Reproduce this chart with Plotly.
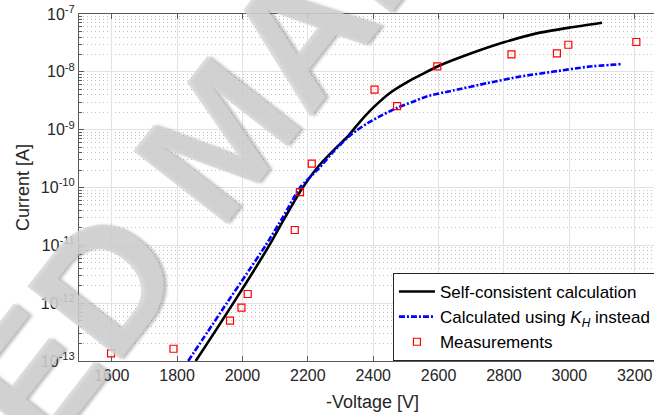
import plotly.graph_objects as go

# Self-consistent calculation
sc_voltage = [1857, 1915, 1972, 2028, 2082, 2132, 2180, 2230, 2280, 2320, 2360,
              2400, 2450, 2500, 2550, 2600, 2700, 2800, 2900, 3000, 3100]
sc_current = [1.0e-13, 3.16e-13, 1.0e-12, 3.16e-12, 1.0e-11, 3.16e-11, 9.1e-11,
              2.24e-10, 4.47e-10, 7.41e-10, 1.38e-9, 2.40e-9, 4.27e-9, 6.46e-9,
              9.12e-9, 1.26e-8, 2.09e-8, 3.24e-8, 4.62e-8, 5.82e-8, 7.08e-8]

# Calculation using K_H
kh_voltage = [1834, 1893, 1952, 2012, 2071, 2125, 2176, 2234, 2280, 2321, 2350,
              2382, 2430, 2474, 2520, 2566, 2647, 2749, 2851, 2953, 3055, 3157]
kh_current = [1.0e-13, 3.16e-13, 1.0e-12, 3.16e-12, 1.0e-11, 3.16e-11, 1.0e-10,
              2.14e-10, 4.27e-10, 7.24e-10, 9.77e-10, 1.29e-9, 1.82e-9, 2.40e-9,
              3.02e-9, 3.80e-9, 4.79e-9, 6.38e-9, 8.32e-9, 1.01e-8, 1.22e-8, 1.36e-8]

# Measured points
meas_voltage = [1598, 1789, 1962, 1997, 2016, 2160, 2176, 2212, 2404, 2473,
                2596, 2823, 2962, 2997, 3205]
meas_current = [1.36e-13, 1.63e-13, 4.98e-13, 8.35e-13, 1.44e-12, 1.84e-11,
                8.35e-11, 2.58e-10, 4.91e-9, 2.56e-9, 1.24e-8, 2.01e-8, 2.09e-8,
                2.94e-8, 3.28e-8]

x_ticks = [1600, 1800, 2000, 2200, 2400, 2600, 2800, 3000, 3200]
y_ticks = [1e-13, 1e-12, 1e-11, 1e-10, 1e-9, 1e-8, 1e-7]
y_ticktext = ["10<sup>-13</sup>", "10<sup>-12</sup>", "10<sup>-11</sup>",
              "10<sup>-10</sup>", "10<sup>-9</sup>", "10<sup>-8</sup>",
              "10<sup>-7</sup>"]

FONT = "Liberation Sans, Arial, sans-serif"
INK = "#262626"
AXIS = "#5a5a5a"

fig = go.Figure()

fig.add_trace(go.Scatter(
    x=sc_voltage, y=sc_current, mode="lines", name="Self-consistent calculation",
    line=dict(color="black", width=2.6, shape="spline", smoothing=0.6),
))
fig.add_trace(go.Scatter(
    x=kh_voltage, y=kh_current, mode="lines",
    name="Calculated using <i>K</i><sub><i>H</i></sub> instead",
    line=dict(color="#0000ff", width=2.6, dash="6px,2px,2px,2px",
              shape="spline", smoothing=0.6),
))
fig.add_trace(go.Scatter(
    x=meas_voltage, y=meas_current, mode="markers", name="Measurements",
    marker=dict(symbol="square-open", size=7, color="#ff0000",
                line=dict(width=1.2, color="#ff0000")),
))

# Diagonal watermark
fig.add_annotation(
    text="ACCEPTED MANUSCRIPT", xref="paper", yref="paper",
    x=0.245, y=0.65, xanchor="center", yanchor="middle",
    showarrow=False, textangle=-52,
    font=dict(family=FONT, size=172, color="rgba(214,214,214,0.82)",
              weight="bold",
              shadow="2px 3px 3px rgba(110,110,110,0.55)"),
)

# x-axis title centred on the full voltage span
fig.add_annotation(
    text="-Voltage [V]", xref="paper", yref="paper",
    x=0.511, y=-0.118, xanchor="center", yanchor="middle",
    showarrow=False, font=dict(family=FONT, size=18, color=INK),
)

fig.update_layout(
    width=654, height=415,
    margin=dict(l=79, r=0, t=14, b=54, autoexpand=False),
    paper_bgcolor="white", plot_bgcolor="white",
    font=dict(family=FONT, size=16, color=INK),
    showlegend=True,
    legend=dict(
        x=0.546, y=0.0, xanchor="left", yanchor="bottom",
        bgcolor="white", bordercolor=INK, borderwidth=1,
        font=dict(family=FONT, size=17, color="black"),
        itemwidth=36, tracegroupgap=0,
    ),
    xaxis=dict(
        range=[1500, 3259], tickvals=x_ticks,
        showline=True, linecolor=AXIS, linewidth=1, mirror="ticks",
        ticks="inside", ticklen=5, tickcolor=AXIS,
        showgrid=True, gridcolor="#e2e2e2", gridwidth=1,
        zeroline=False, tickfont=dict(size=16, color=INK),
    ),
    yaxis=dict(
        type="log", range=[-13, -7],
        tickvals=y_ticks, ticktext=y_ticktext,
        showline=True, linecolor=AXIS, linewidth=1, mirror=False,
        ticks="inside", ticklen=5, tickcolor=AXIS,
        showgrid=True, gridcolor="#e2e2e2", gridwidth=1,
        zeroline=False, tickfont=dict(size=16, color=INK),
        title=dict(text="Current [A]", font=dict(size=18, color=INK), standoff=6),
        minor=dict(dtick="D1", ticks="inside", ticklen=3, tickcolor=AXIS,
                   showgrid=True, gridcolor="#c2c2c2", gridwidth=1,
                   griddash="1px,3px"),
    ),
)

fig.write_html("out.html")
